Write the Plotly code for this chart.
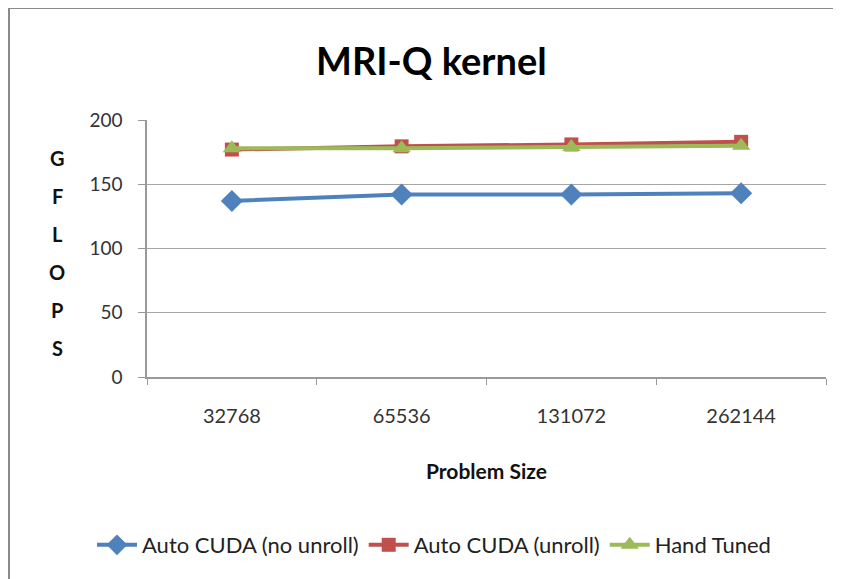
import plotly.graph_objects as go

problem_sizes = ["32768", "65536", "131072", "262144"]
auto_no_unroll = [137, 142, 142, 143]
auto_unroll = [177, 179.5, 181, 183]
hand_tuned = [178, 178, 179, 180]

series_names = ["Auto CUDA (no unroll)", "Auto CUDA (unroll)", "Hand Tuned"]
colors = ["#4F81BD", "#C0504D", "#9BBB59"]
symbols = ["diamond", "square", "triangle-up"]
marker_sizes = [17, 14, 16]

FONT = "Lato"

fig = go.Figure()
for name, vals, col, sym, ms in zip(series_names, [auto_no_unroll, auto_unroll, hand_tuned], colors, symbols, marker_sizes):
    fig.add_trace(go.Scatter(
        x=problem_sizes, y=vals, name=name, mode="lines+markers",
        line=dict(color=col, width=4),
        marker=dict(symbol=sym, size=ms, color=col),
    ))

# page body has an 8px margin; screen coords below are reference-screen pixels
OFF = 8
W, H = 841 - OFF, 579 - OFF
L_s, R_s, T_s, B_s = 147, 826, 120, 377   # plot area in screen pixels
pw, ph = R_s - L_s, B_s - T_s
L, T = L_s - OFF, T_s - OFF
R, B = W - L - pw, H - T - ph

def px_x(p):
    return (p - L_s) / pw

def px_y(p):
    return (B_s - p) / ph

fig.update_layout(
    width=W, height=H,
    margin=dict(l=L, r=R, t=T, b=B),
    paper_bgcolor="white", plot_bgcolor="white",
    font=dict(family=FONT, color="#333333", size=18),
    showlegend=True,
    legend=dict(orientation="h", x=px_x(434), xanchor="center", y=px_y(545), yanchor="middle",
                font=dict(size=22, color="#222222"), itemwidth=40, tracegroupgap=0,
                bgcolor="rgba(0,0,0,0)"),
    xaxis=dict(
        type="category", tickson="boundaries", ticks="outside", ticklen=6, tickcolor="#999999",
        showline=True, linecolor="#999999", linewidth=1.5, showgrid=False,
        tickfont=dict(size=20, color="#333333"), ticklabelstandoff=20,
        range=[-0.5, 3.5],
    ),
    yaxis=dict(
        range=[0, 200], tickvals=[0, 50, 100, 150, 200], ticks="outside", ticklen=7,
        tickcolor="#999999", showline=True, linecolor="#999999", linewidth=1.5,
        showgrid=True, gridcolor="#a6a6a6", gridwidth=1.2, zeroline=False,
        tickfont=dict(size=19, color="#333333"), ticklabelstandoff=12,
    ),
)

# Chart title
fig.add_annotation(text="<b>MRI-Q kernel</b>", xref="paper", yref="paper",
                   x=px_x(431), y=px_y(60), xanchor="center", yanchor="middle",
                   showarrow=False, font=dict(size=38, color="#000000", family=FONT))

# X-axis title
fig.add_annotation(text="<b>Problem Size</b>", xref="paper", yref="paper",
                   x=px_x(486), y=px_y(470), xanchor="center", yanchor="middle",
                   showarrow=False, font=dict(size=21, color="#111111", family=FONT))

# Vertical stacked y-axis title
letters = list("GFLOPS")
for i, ch in enumerate(letters):
    fig.add_annotation(text=f"<b>{ch}</b>", xref="paper", yref="paper",
                       x=px_x(57), y=px_y(158 + i * 38), xanchor="center", yanchor="middle",
                       showarrow=False, font=dict(size=20, color="#111111", family=FONT))

# Outer chart border
fig.add_shape(type="rect", xref="paper", yref="paper",
              x0=px_x(9), x1=px_x(900), y0=px_y(700), y1=px_y(8),
              line=dict(color="#8a8a8a", width=2), fillcolor="rgba(0,0,0,0)", layer="below")

fig.write_html("out.html")
